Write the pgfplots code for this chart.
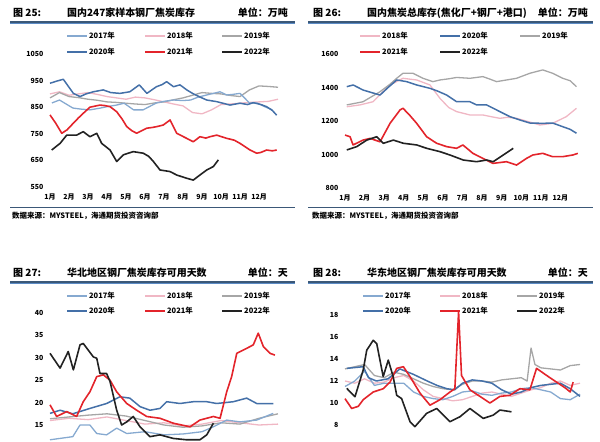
\documentclass[border=0pt]{standalone}
\usepackage{pgfplots}
\pgfplotsset{compat=1.18}
\usepackage{fontspec}
\setmainfont{Noto Sans CJK SC}
\definecolor{c17}{HTML}{86A9D0}
\definecolor{c18}{HTML}{F0B7C4}
\definecolor{c19}{HTML}{A6A6A6}
\definecolor{c20}{HTML}{4470A8}
\definecolor{c21}{HTML}{E3242B}
\definecolor{c22}{HTML}{222222}
\definecolor{rulec}{HTML}{3B5878}
\definecolor{ruleb}{HTML}{5B8BC5}
\pgfplotsset{
 panel/.style={scale only axis, axis line style={draw=none}, major tick length=0pt, clip=false,
   tick label style={font=\fontsize{7}{8}\selectfont\bfseries},
   /pgf/number format/assume math mode=true,
   /pgf/number format/1000 sep={},
   yticklabel style={xshift=-3bp},
   xticklabel style={yshift=-3bp},
   xtick={0,...,11}, xticklabels={1月,2月,3月,4月,5月,6月,7月,8月,9月,10月,11月,12月},
   xmin=0, xmax=12,
   every axis plot/.append style={line width=1.3bp, no marks, line join=round},
 },
}
\newcommand{\leg}[4]{\draw[#1, line width=1.8bp] (#2,#3) -- (#2+20,#3);
  \node[anchor=west, inner sep=0pt, font=\fontsize{7.5}{9}\selectfont\bfseries] at (#2+22,#3) {#4};}
\newcommand{\ttl}[5]{%
  \node[anchor=west, inner sep=0pt, font=\fontsize{10}{12}\selectfont\bfseries] at (#1,#2) {#3};
  \node[anchor=west, inner sep=0pt, font=\fontsize{10}{12}\selectfont\bfseries] at (#1+54,#2) {#4};
  \node[anchor=east, inner sep=0pt, font=\fontsize{10}{12}\selectfont\bfseries] at (#1+275,#2) {#5};}
\begin{document}
\begin{tikzpicture}
\useasboundingbox (0,0) rectangle (600bp,-442bp);
\clip (0,0) rectangle (600bp,-442bp);
\begin{scope}[x=1bp,y=-1bp]
% titles
\ttl{13}{13}{图 25:}{国内247家样本钢厂焦炭库存}{单位：万吨}
\ttl{313}{13}{图 26:}{国内焦炭总库存(焦化厂+钢厂+港口)}{单位：万吨}
\ttl{13}{273}{图 27:}{华北地区钢厂焦炭库存可用天数}{单位：天}
\ttl{313}{273}{图 28:}{华东地区钢厂焦炭库存可用天数}{单位：天}
% rules
\foreach \a/\b/\y in {10/295/22, 308/593/22, 10/295/282, 308/593/282}{
  \draw[rulec, line width=1.1bp] (\a,\y) -- (\b,\y);
  \draw[ruleb, line width=0.9bp] (\a,\y+1.3) -- (\b,\y+1.3);}
\foreach \a/\b in {10/295, 308/593}{
  \draw[rulec, line width=1.3bp] (\a,207.5) -- (\b,207.5);}
\node[anchor=west, inner sep=0pt, font=\fontsize{7.5}{9}\selectfont\bfseries] at (12,215.5) {数据来源：MYSTEEL，海通期货投资咨询部};
\node[anchor=west, inner sep=0pt, font=\fontsize{7.5}{9}\selectfont\bfseries] at (312,215.5) {数据来源：MYSTEEL，海通期货投资咨询部};
% legends
\leg{c17}{67}{36}{2017年}\leg{c18}{145}{36}{2018年}\leg{c19}{222}{36}{2019年}
\leg{c20}{67}{52}{2020年}\leg{c21}{145}{52}{2021年}\leg{c22}{222}{52}{2022年}
\leg{c18}{360}{36}{2018年}\leg{c20}{440}{36}{2020年}\leg{c19}{520}{36}{2019年}
\leg{c21}{360}{52}{2021年}\leg{c22}{440}{52}{2022年}
\leg{c17}{67}{296}{2017年}\leg{c18}{145}{296}{2018年}\leg{c19}{222}{296}{2019年}
\leg{c20}{67}{311}{2020年}\leg{c21}{145}{311}{2021年}\leg{c22}{222}{311}{2022年}
\leg{c17}{363}{296}{2017年}\leg{c18}{440}{296}{2018年}\leg{c19}{517}{296}{2019年}
\leg{c20}{363}{311}{2020年}\leg{c21}{440}{311}{2021年}\leg{c22}{517}{311}{2022年}
\end{scope}

% ---------- Panel 25 ----------
\begin{axis}[panel, at={(50bp,-187bp)}, anchor=south west, width=228bp, height=133bp,
  ymin=550, ymax=1050, ytick={550,650,...,1050}]
\addplot[c18] coordinates {(0,900)(0.5,908)(1,895)(1.5,900)(2,905)(2.5,898)(3,890)(3.5,885)(4,880)(4.5,888)(5,885)(5.5,878)(6,870)(6.5,862)(7,855)(7.5,830)(8,825)(8.5,840)(9,860)(9.5,862)(10,865)(10.5,868)(11,870)(11.5,872)(12,880)};
\addplot[c19] coordinates {(0,885)(0.5,905)(1,890)(1.5,886)(2,880)(2.5,876)(3,870)(3.5,868)(4,865)(4.5,862)(5,860)(5.5,866)(6,870)(6.5,878)(7,885)(7.5,895)(8,905)(8.5,902)(9,900)(9.5,894)(10,890)(10.5,915)(11,930)(11.5,928)(12,925)};
\addplot[c17] coordinates {(0.1,866)(0.5,877)(1.2,847)(1.6,843)(2.1,840)(2.6,846)(3,852)(3.5,858)(3.9,865)(4.4,840)(4.9,840)(5.6,866)(6,872)(6.5,877)(7,875)(7.4,877)(7.8,888)(8.25,896)(8.6,902)(8.95,908)(9.3,896)(9.6,898)(10,902)(10.5,866)(10.9,866)(11.3,852)(11.7,840)};
\addplot[c20, line width=1.5bp] coordinates {(0,940)(0.35,948)(0.7,955)(1,925)(1.23,902)(1.58,890)(1.9,900)(2.28,908)(2.8,915)(3.2,905)(3.68,902)(4.2,908)(4.7,934)(5.1,902)(5.6,927)(5.9,935)(6.14,946)(6.5,927)(6.84,934)(7.2,915)(7.5,902)(7.9,888)(8.25,877)(8.77,871)(9.1,865)(9.47,858)(10,865)(10.4,860)(10.7,867)(11.1,860)(11.4,852)(11.7,838)(11.93,820)};
\addplot[c21, line width=1.6bp] coordinates {(0,821)(0.3,790)(0.62,752)(0.9,765)(1.23,790)(1.5,810)(1.75,827)(2.1,850)(2.63,858)(2.9,856)(3.16,852)(3.51,833)(3.8,805)(4.04,777)(4.3,762)(4.56,752)(5.09,771)(5.4,774)(5.62,777)(5.96,783)(6.32,802)(6.67,752)(7.19,733)(7.54,720)(7.89,739)(8.2,734)(8.42,739)(8.77,745)(9.3,733)(9.7,726)(10,714)(10.53,689)(10.88,677)(11.1,680)(11.4,689)(11.7,686)(11.93,689)};
\addplot[c22, line width=1.6bp] coordinates {(0.09,689)(0.53,714)(0.88,745)(1.4,745)(1.75,758)(2.1,739)(2.46,752)(2.72,714)(3.16,689)(3.51,646)(3.86,671)(4.38,683)(4.91,677)(5.2,665)(5.44,646)(5.79,614)(6.32,608)(6.67,595)(7.19,583)(7.54,576)(7.89,595)(8.25,614)(8.6,627)(8.86,652)};
\end{axis}

% ---------- Panel 26 ----------
\begin{axis}[panel, at={(345bp,-188bp)}, anchor=south west, width=235bp, height=134bp,
  ymin=800, ymax=1600, ytick={800,1000,...,1600}]
\addplot[c18] coordinates {(0.09,1285)(0.76,1296)(1.43,1315)(1.9,1370)(2.3,1415)(2.96,1455)(3.3,1450)(3.66,1445)(4.34,1415)(4.85,1335)(5.3,1280)(5.7,1256)(6.38,1236)(7.04,1236)(7.5,1225)(7.91,1216)(8.3,1222)(8.76,1216)(9.4,1195)(9.95,1176)(10.6,1186)(11.3,1226)(11.82,1276)};
\addplot[c19] coordinates {(0.09,1296)(0.92,1315)(1.79,1375)(2.3,1420)(2.64,1455)(2.96,1485)(3.47,1485)(3.98,1455)(4.49,1435)(4.85,1445)(5.3,1452)(5.7,1460)(6.38,1455)(7.04,1465)(7.4,1450)(7.74,1435)(8.25,1445)(8.76,1455)(9.44,1485)(10.1,1505)(10.6,1485)(11.12,1455)(11.5,1440)(11.82,1405)};
\addplot[c20, line width=1.5bp] coordinates {(0.09,1405)(0.42,1415)(0.92,1385)(1.35,1370)(1.79,1355)(2.2,1400)(2.64,1445)(3.15,1435)(3.66,1415)(4.34,1395)(4.7,1380)(5.19,1355)(5.7,1315)(6.38,1315)(6.72,1296)(7.23,1296)(7.74,1266)(8.42,1226)(8.93,1206)(9.44,1188)(10.1,1186)(10.6,1188)(11.12,1166)(11.5,1150)(11.82,1127)};
\addplot[c21, line width=1.6bp] coordinates {(0,1116)(0.26,1106)(0.41,1057)(0.92,1086)(1.28,1096)(1.79,1076)(2.3,1186)(2.81,1266)(2.96,1276)(3.3,1235)(3.66,1186)(4.17,1106)(4.68,1067)(5.19,1047)(5.7,1037)(6.02,1057)(6.53,1007)(7.04,977)(7.55,947)(8.25,957)(8.76,937)(9.27,977)(9.59,997)(10.1,1007)(10.6,987)(11.12,987)(11.63,997)(11.89,1007)};
\addplot[c22, line width=1.6bp] coordinates {(0.09,1027)(0.6,1047)(1.11,1086)(1.62,1106)(1.96,1067)(2.47,1086)(2.98,1067)(3.66,1057)(4.17,1037)(4.85,1017)(5.36,997)(6.04,967)(6.72,957)(7.23,967)(7.57,957)(8.08,997)(8.59,1037)};
\end{axis}

% ---------- Panel 27 ----------
\begin{axis}[panel, at={(50bp,-447.4bp)}, anchor=south west, width=228bp, height=134.4bp,
  ymin=10, ymax=40, ytick={15,20,...,40}, xticklabels={}]
\addplot[c18] coordinates {(0,16.0)(1,16.5)(2,16.2)(3,16.8)(4,16.0)(5,15.2)(6,15.5)(7,14.8)(8,15.2)(9,16.0)(10,15.5)(11,15.0)(12,15.2)};
\addplot[c19] coordinates {(0,16.4)(1,16.8)(2,17.2)(3,17.5)(4,17.0)(5,16.0)(6,15.0)(7,14.5)(8,14.8)(9,15.5)(10,15.2)(11,16.5)(12,17.5)};
\addplot[c17] coordinates {(0,11.7)(1.2,12.4)(1.58,15.0)(2.1,15.0)(2.46,13.1)(2.98,12.8)(3.51,14.3)(4.04,13.1)(5,13.5)(6,12.8)(7,13.0)(8,13.5)(8.6,14.6)(9.3,16.1)(10,15.7)(10.88,16.1)(11.75,17.6)};
\addplot[c20, line width=1.5bp] coordinates {(0,17.6)(0.53,18.3)(1.2,17.5)(2.1,18.7)(2.98,19.8)(3.68,21.3)(4.2,21.0)(4.74,19.1)(5.26,18.3)(5.79,18.7)(6.14,20.2)(6.84,19.8)(7.54,20.2)(8.25,20.2)(8.77,19.8)(9.65,20.2)(10.35,21.0)(10.88,19.8)(11.75,19.8)};
\addplot[c21, line width=1.6bp] coordinates {(0,19.5)(0.35,16.9)(0.88,18.0)(1.4,16.9)(1.75,20.2)(2.1,22.4)(2.46,25.8)(2.81,26.2)(3.16,25.0)(3.51,22.4)(4.04,19.8)(4.56,18.3)(5.09,16.9)(5.79,16.5)(6.49,15.4)(7.37,14.6)(7.89,16.1)(8.6,16.9)(8.95,16.5)(9.3,22.4)(9.56,25.8)(9.83,31.0)(10.35,32.1)(10.7,32.9)(10.96,35.5)(11.23,32.5)(11.58,31.0)(11.84,30.6)};
\addplot[c22, line width=1.6bp] coordinates {(0,31.0)(0.53,27.7)(0.96,31.4)(1.23,27.3)(1.58,32.9)(1.75,33.2)(2.28,30.2)(2.46,29.9)(2.63,26.5)(2.98,26.5)(3.16,24.7)(3.51,18.3)(3.77,15.0)(4.04,15.7)(4.38,16.9)(4.74,14.6)(5.26,12.4)(5.79,12.8)(6.49,12.0)(7.19,11.7)(7.89,11.7)(8.25,12.8)(8.6,15.4)};
\end{axis}

% ---------- Panel 28 ----------
\begin{axis}[panel, at={(345bp,-447bp)}, anchor=south west, width=235bp, height=143bp,
  ymin=6, ymax=19, ytick={8,10,...,18}, xticklabels={}]
\addplot[c18] coordinates {(0,12.0)(0.5,11.8)(1,12.2)(1.5,11.8)(2,11.9)(2.5,12.3)(3,12.5)(3.5,12.0)(4,11.2)(4.5,10.6)(5,10.4)(5.5,10.2)(6,10.3)(6.5,10.6)(7,10.9)(7.5,11.0)(8,10.8)(8.5,10.6)(9,10.9)(9.5,11.2)(10,11.4)(10.5,11.8)(11,12.0)(11.5,11.6)(12,11.8)};
\addplot[c19] coordinates {(0,13.1)(0.5,13.3)(1,13.5)(1.5,12.5)(2,12.3)(2.5,12.8)(3,12.6)(3.5,12.2)(4,11.8)(4.5,11.5)(5,11.3)(5.5,11.2)(6,11.7)(6.5,12.0)(7,12.0)(7.5,11.9)(8,12.1)(8.5,12.2)(9,12.3)(9.3,12.0)(9.5,15.0)(9.7,13.5)(10,13.2)(10.5,13.1)(11,13.0)(11.5,13.4)(12,13.5)};
\addplot[c17] coordinates {(0,11.5)(0.5,12.0)(1,12.9)(1.5,11.6)(2,11.8)(3,11.8)(3.5,11.0)(4,10.6)(4.5,10.4)(5,10.3)(5.5,10.6)(6,11.0)(6.5,11.1)(7,10.8)(7.5,10.7)(8,10.9)(8.5,11.0)(9,11.3)(9.5,11.4)(10,11.2)(10.5,11.0)(11,10.4)(11.5,10.3)(12,10.8)};
\addplot[c20, line width=1.5bp] coordinates {(0.09,13.15)(0.93,13.3)(1.2,12.3)(1.6,12.0)(2.2,12.2)(2.8,13.1)(3.5,12.6)(4.2,12.0)(4.7,11.6)(5.2,11.3)(5.6,11.2)(6,11.8)(6.5,12.1)(7,12.0)(7.5,11.8)(8,11.2)(8.5,10.8)(9,11.0)(9.5,11.4)(10,11.6)(10.5,11.7)(11,11.8)(11.5,11.3)(12,10.6)};
\addplot[c21, line width=1.6bp] coordinates {(0,10.4)(0.34,9.5)(0.68,9.7)(0.93,10.3)(1.44,11.0)(1.95,11.3)(2.3,11.9)(2.64,13.15)(2.98,13.3)(3.32,12.4)(3.83,10.9)(4.34,9.8)(4.85,10.3)(5.36,11.0)(5.61,11.3)(5.8,18.3)(5.95,12.5)(6.38,11.2)(6.89,10.6)(7.4,10.0)(7.91,10.6)(8.42,10.7)(8.93,11.3)(9.44,11.2)(9.78,13.15)(10.3,12.5)(10.8,11.9)(11.14,11.5)(11.3,11.3)(11.5,11.0)(11.65,11.9)};
\addplot[c22, line width=1.6bp] coordinates {(0.09,11.33)(0.51,10.57)(0.93,13.0)(1.11,14.8)(1.44,15.7)(1.62,15.4)(1.95,12.4)(2.21,13.9)(2.46,12.4)(2.64,10.7)(2.89,10.4)(3.32,8.3)(3.57,7.85)(4.17,9.06)(4.68,9.5)(5.36,8.3)(5.87,8.75)(6.38,9.5)(7.06,8.6)(7.57,8.9)(7.91,9.36)(8.5,9.2)};
\end{axis}
\end{tikzpicture}
\end{document}
